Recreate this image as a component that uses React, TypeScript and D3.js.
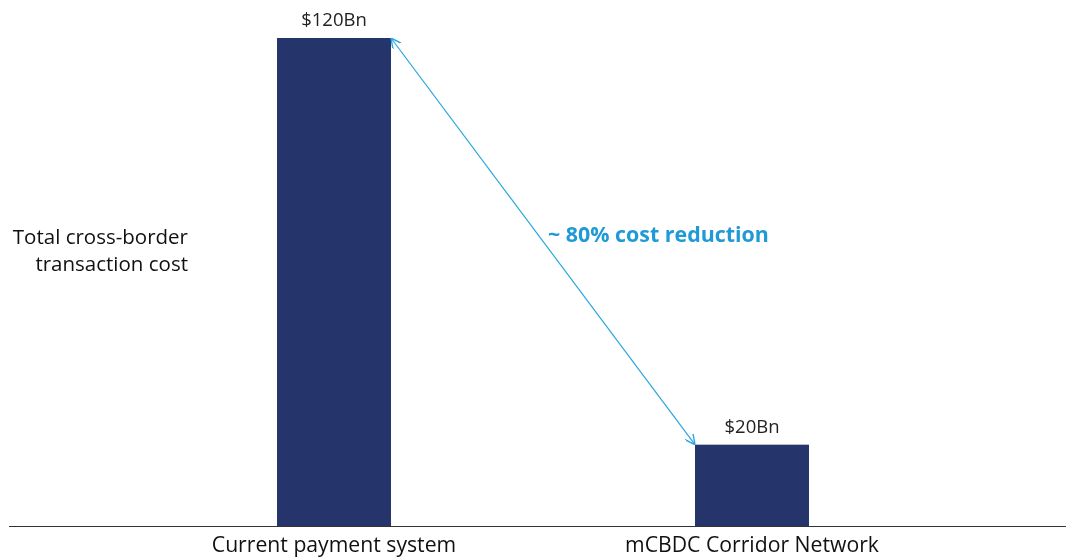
import React from 'react';
import * as d3 from 'd3';

const categories = ['Current payment system', 'mCBDC Corridor Network'];
const costs = [120, 20];
const valueLabels = ['$120Bn', '$20Bn'];
const yLabelLines = ['Total cross-border', 'transaction cost'];
const annotation = '~ 80% cost reduction';

const width = 1066;
const height = 558;
const baseY = 526;
const font = '"Open Sans", "Noto Sans", sans-serif';
const barColor = '#25356b';
const arrowColor = '#2ba6df';

export default function App() {
  const x = d3
    .scaleBand<string>()
    .domain(categories)
    .range([68, 1018])
    .paddingInner(0.7273)
    .paddingOuter(0.5);

  const y = d3.scaleLinear().domain([0, 120]).range([baseY, 38]);

  const bw = x.bandwidth();
  const x0 = x(categories[0])! + bw;
  const y0 = y(costs[0]);
  const x1 = x(categories[1])!;
  const y1 = y(costs[1]);

  return (
    <svg width={width} height={height}
      style={{ position: 'fixed', left: 0, top: 0, fontFamily: font }}>
      <defs>
        <marker id="head" viewBox="0 0 10 10" refX="10" refY="5" markerWidth="10" markerHeight="10"
          markerUnits="userSpaceOnUse" orient="auto-start-reverse">
          <path d="M0,0 L10,5 L0,10" fill="none" stroke={arrowColor} strokeWidth={1.4} />
        </marker>
      </defs>
      {categories.map((c, i) => (
        <g key={c}>
          <rect x={x(c)} y={y(costs[i])} width={bw} height={baseY - y(costs[i])} fill={barColor} />
          <text x={x(c)! + bw / 2} y={y(costs[i]) - 12} textAnchor="middle" fontSize={18.5} fill="#222">
            {valueLabels[i]}
          </text>
          <text x={x(c)! + bw / 2} y={552} textAnchor="middle" fontSize={21.2} fill="#111">
            {c}
          </text>
        </g>
      ))}
      <line x1={9} x2={width} y1={baseY + 0.5} y2={baseY + 0.5} stroke="#333" strokeWidth={1} />
      <line x1={x0} y1={y0} x2={x1} y2={y1} stroke={arrowColor} strokeWidth={1.2}
        markerStart="url(#head)" markerEnd="url(#head)" />
      <text x={548} y={242} fontSize={21.4} fontWeight={700} fill="#1f9ad6">{annotation}</text>
      {yLabelLines.map((l, i) => (
        <text key={l} x={188} y={244 + i * 27} textAnchor="end" fontSize={20.5} fill="#111">{l}</text>
      ))}
    </svg>
  );
}
